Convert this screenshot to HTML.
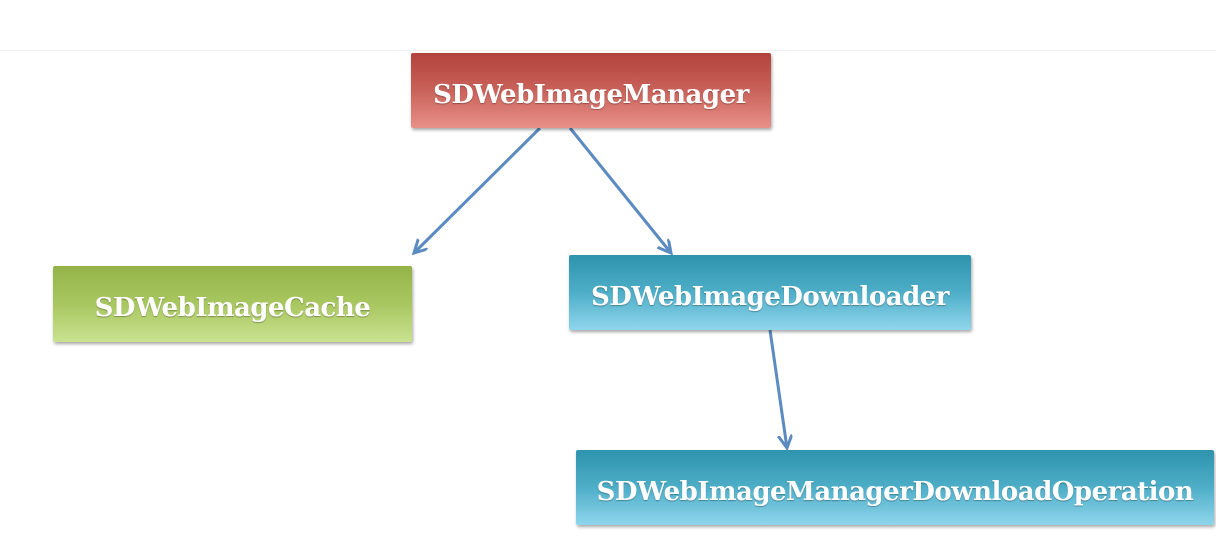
<!DOCTYPE html>
<html><head><style>
body{margin:0;width:1216px;height:540px;background:#fff;position:relative;overflow:hidden;font-family:"DejaVu Serif","Liberation Serif",serif;}
.b{position:absolute;box-sizing:border-box;padding-top:8px;display:flex;align-items:center;justify-content:center;color:#fff;font-weight:bold;font-size:26px;letter-spacing:-0.5px;box-shadow:1px 2px 3px rgba(0,0,0,0.35);border-radius:2px;text-shadow:0 1px 1px rgba(0,0,0,0.3);}
.r{background:linear-gradient(#b2423c,#c9625a 50%,#e89088);}
.g{background:linear-gradient(#93b348,#a9c760 50%,#c9e290);}
.c{background:linear-gradient(#2e93ad,#4eaec8 50%,#8fd6ec);}
</style></head><body>
<div style="position:absolute;left:0;top:50px;width:1216px;height:1px;background:#f0f0f0"></div>
<svg width="1216" height="540" style="position:absolute;left:0;top:0">
<defs><marker id="a" markerWidth="16" markerHeight="16" refX="13" refY="7" orient="auto" markerUnits="userSpaceOnUse"><path d="M0,0 L13,7 L0,14" fill="none" stroke="#5b8bc0" stroke-width="3"/></marker></defs>
<g stroke="#5b8bc0" stroke-width="3" fill="none">
<line x1="540" y1="128" x2="414" y2="253" marker-end="url(#a)"/>
<line x1="570" y1="128" x2="671" y2="253" marker-end="url(#a)"/>
<line x1="770" y1="330" x2="787" y2="448" marker-end="url(#a)"/>
</g>
</svg>
<div class="b r" style="left:411px;top:53px;width:360px;height:75px">SDWebImageManager</div>
<div class="b g" style="left:53px;top:266px;width:359px;height:76px">SDWebImageCache</div>
<div class="b c" style="left:569px;top:255px;width:402px;height:75px">SDWebImageDownloader</div>
<div class="b c" style="left:576px;top:450px;width:638px;height:75px">SDWebImageManagerDownloadOperation</div>
</body></html>
